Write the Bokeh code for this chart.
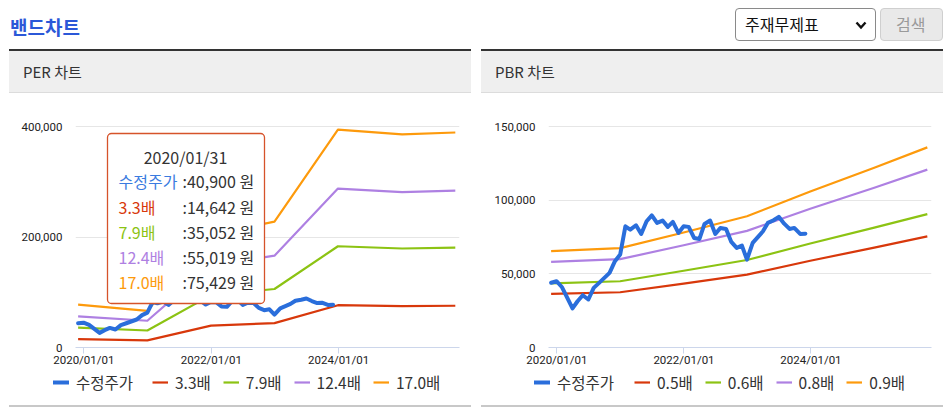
import pandas as pd
from bokeh.plotting import figure
from bokeh.models import (ColumnDataSource, Legend, LegendItem, FixedTicker, NumeralTickFormatter,
                          DatetimeTickFormatter, Range1d, BoxAnnotation, Label, Div)
from bokeh.layouts import column, row
from bokeh.embed import file_html
from bokeh.resources import INLINE

# ---------------- data ----------------
price_dates = [
    "2019-11-29", "2019-12-30", "2020-01-31", "2020-03-31", "2020-04-29", "2020-05-29",
    "2020-06-30", "2020-07-31", "2020-08-31", "2020-10-30", "2020-11-30", "2020-12-30",
    "2021-01-29", "2021-02-26", "2021-03-31", "2021-04-30", "2021-05-31", "2021-06-30",
    "2021-07-30", "2021-08-31", "2021-09-30", "2021-10-29", "2021-11-30", "2021-12-30",
    "2022-01-28", "2022-02-28", "2022-03-31", "2022-04-29", "2022-05-31", "2022-06-30",
    "2022-07-29", "2022-08-31", "2022-09-30", "2022-10-31", "2022-11-30", "2022-12-29",
    "2023-01-31", "2023-03-31", "2023-04-28", "2023-05-31", "2023-06-30", "2023-07-31",
    "2023-08-31", "2023-09-27", "2023-10-31", "2023-11-30",
]
price_values = [
    44000, 45000, 40900, 26500, 31400, 35500, 32600, 40500, 43900, 50700, 58600, 63100,
    82300, 80000, 83000, 77100, 85700, 89700, 84600, 86200, 81900, 85300, 77800, 82300,
    81900, 74400, 73700, 83900, 86200, 77100, 81200, 80500, 71700, 67600, 69200, 59700,
    71000, 78900, 84600, 86400, 88700, 84100, 80500, 81200, 77100, 77300,
]

band_dates = ["2019-11-29", "2020-12-30", "2021-12-30", "2022-12-29",
              "2023-12-28", "2024-12-30", "2025-10-31"]

per_names = ["3.3배", "7.9배", "12.4배", "17.0배"]
per_33 = [15000, 12900, 39600, 44200, 76600, 74900, 75600]
per_79 = [36000, 30800, 94800, 105900, 183300, 179300, 180900]
per_124 = [56500, 48400, 148800, 166200, 287700, 281500, 284000]
per_170 = [77500, 66300, 204000, 227800, 394400, 385900, 389300]

pbr_names = ["0.5배", "0.6배", "0.8배", "0.9배"]
pbr_05 = [36400, 37500, 43400, 49500, 58900, 67800, 75500]
pbr_06 = [43600, 45000, 52100, 59400, 70600, 81400, 90600]
pbr_08 = [58200, 60000, 69400, 79200, 94200, 108500, 120800]
pbr_09 = [65400, 67500, 78100, 89100, 105900, 122000, 135900]

price_name = "수정주가"
x_tick_dates = ["2020-01-01", "2022-01-01", "2024-01-01"]
per_y_ticks = [0, 200000, 400000]
pbr_y_ticks = [0, 50000, 100000, 150000]

tooltip_date = "2020/01/31"
tooltip_names = ["수정주가", "3.3배", "7.9배", "12.4배", "17.0배"]
tooltip_values = ["40,900", "14,642", "35,052", "55,019", "75,429"]

# ---------------- style ----------------
C_PRICE = "#2a6edb"
C_BANDS = ["#d8380b", "#8cc313", "#ae80e2", "#fd9a0c"]
FONT = "Noto Sans CJK KR"
AXIS_FONT = "Roboto"
X_START, X_END = "2019-11-14", "2025-11-24"


def ms(d):
    return pd.Timestamp(d).value // 10**6


price_src = ColumnDataSource(dict(x=pd.to_datetime(price_dates), y=price_values))


def draw_series(p, bands):
    rs = []
    for vals, col in zip(bands, C_BANDS):
        rs.append(p.line(pd.to_datetime(band_dates), vals, line_color=col, line_width=2.2,
                         line_join="round"))
    rp = p.line("x", "y", source=price_src, line_color=C_PRICE, line_width=4,
                line_join="round", line_cap="round")
    return rp, rs


def make_chart(bands, y_end, y_ticks, width, left, right):
    p = figure(width=width, height=276, x_axis_type="datetime",
               x_range=Range1d(pd.Timestamp(X_START), pd.Timestamp(X_END)),
               y_range=Range1d(0, y_end),
               output_backend="svg", toolbar_location=None,
               min_border_left=left, min_border_right=right,
               min_border_top=11, min_border_bottom=21)
    p.outline_line_color = None
    p.background_fill_color = "white"
    p.border_fill_color = "white"
    p.xgrid.grid_line_color = None
    p.ygrid.grid_line_color = "#e6e6e6"
    p.ygrid.grid_line_width = 1

    draw_series(p, bands)

    xa = p.xaxis[0]
    xa.ticker = FixedTicker(ticks=[ms(d) for d in x_tick_dates])
    xa.formatter = DatetimeTickFormatter(days="%Y/%m/%d", months="%Y/%m/%d", years="%Y/%m/%d")
    xa.axis_line_color = "#ccd6eb"
    xa.major_tick_line_color = "#ccd6eb"
    xa.major_tick_out = 6
    xa.major_tick_in = 0
    xa.minor_tick_line_color = None
    xa.major_label_standoff = -1
    xa.major_label_text_font = AXIS_FONT
    xa.major_label_text_font_size = "11.5px"
    xa.major_label_text_color = "#222222"

    ya = p.yaxis[0]
    ya.ticker = FixedTicker(ticks=y_ticks)
    ya.formatter = NumeralTickFormatter(format="0,0")
    ya.axis_line_color = None
    ya.major_tick_line_color = None
    ya.minor_tick_line_color = None
    ya.major_label_standoff = 7
    ya.major_label_text_font = AXIS_FONT
    ya.major_label_text_font_size = "11.5px"
    ya.major_label_text_color = "#222222"
    return p


def legend_box(items, lx):
    return Legend(items=items, orientation="horizontal", location=(lx, 9),
                  label_text_font=FONT, label_text_font_size="15.5px",
                  label_text_color="#333333", glyph_width=16, glyph_height=14,
                  label_standoff=7, spacing=12, padding=0, margin=0,
                  border_line_color=None, background_fill_alpha=0)


def make_legend(bands, names, width, lx_price, lx_bands):
    # legend strip under a chart: the same series drawn outside the visible range
    q = figure(width=width, height=33, x_axis_type="datetime",
               x_range=Range1d(pd.Timestamp(X_START), pd.Timestamp(X_END)),
               y_range=Range1d(-2, -1),
               output_backend="svg", toolbar_location=None, min_border=0)
    q.axis.visible = False
    q.grid.grid_line_color = None
    q.outline_line_color = None
    rp, rs = draw_series(q, bands)
    q.add_layout(legend_box([LegendItem(label=price_name, renderers=[rp])], lx_price), "center")
    q.add_layout(legend_box([LegendItem(label=n, renderers=[r]) for n, r in zip(names, rs)],
                            lx_bands), "center")
    return q


per_bands = [per_33, per_79, per_124, per_170]
pbr_bands = [pbr_05, pbr_06, pbr_08, pbr_09]
pL = make_chart(per_bands, 440000, per_y_ticks, 471, 75, 12)
pR = make_chart(pbr_bands, 165000, pbr_y_ticks, 477, 77, 17)
lgL = make_legend(per_bands, per_names, 471, 53, 152)
lgR = make_legend(pbr_bands, pbr_names, 477, 63, 163)

# tooltip (static) on the PER chart, screen units relative to the frame
box = BoxAnnotation(left=32, right=189, top=214, bottom=44,
                    left_units="screen", right_units="screen",
                    top_units="screen", bottom_units="screen",
                    fill_color="white", fill_alpha=1.0,
                    line_color="#d6532a", line_alpha=1.0, line_width=1.3, border_radius=4)
pL.add_layout(box)
pL.add_layout(Label(x=110, y=191, x_units="screen", y_units="screen", text=tooltip_date,
                    text_align="center", text_baseline="middle", text_font=FONT,
                    text_font_size="16px", text_color="#333333"))
row_y = [167, 141, 116, 91, 66]
name_cols = ["#3a7be0"] + C_BANDS
for ny, nm, vv, cc in zip(row_y, tooltip_names, tooltip_values, name_cols):
    pL.add_layout(Label(x=43, y=ny, x_units="screen", y_units="screen", text=nm,
                        text_align="left", text_baseline="middle", text_font=FONT,
                        text_font_size="16px", text_color=cc))
    pL.add_layout(Label(x=107, y=ny, x_units="screen", y_units="screen", text=":" + vv + " 원",
                        text_align="left", text_baseline="middle", text_font=FONT,
                        text_font_size="16px", text_color="#333333"))

header_html = f"""
<div style="position:relative;width:948px;height:93px;font-family:'{FONT}',sans-serif;box-sizing:border-box;">
  <div style="position:absolute;left:10px;top:13px;font-size:19px;font-weight:bold;color:#2b58d8;">밴드차트</div>
  <div style="position:absolute;box-sizing:border-box;left:735px;top:8px;width:141px;height:33px;border:1px solid #8a8a8a;border-radius:4px;background:#fff;">
    <span style="position:absolute;left:9px;top:4px;font-size:16px;color:#111;">주재무제표</span>
    <svg style="position:absolute;right:8px;top:12px;" width="12" height="9">
      <polyline points="1.5,1.5 6,6.5 10.5,1.5" stroke="#111" stroke-width="2.4" fill="none"/>
    </svg>
  </div>
  <div style="position:absolute;box-sizing:border-box;left:880px;top:8px;width:63px;height:33px;border:1px solid #cfcfcf;border-radius:4px;background:#e9e9e9;">
    <span style="position:absolute;left:15px;top:4px;font-size:16px;color:#9a9a9a;">검색</span>
  </div>
  <div style="position:absolute;box-sizing:border-box;left:9px;top:49px;width:462px;height:44px;border-top:2px solid #333;border-bottom:1px solid #dcdcdc;background:#efefef;">
    <span style="position:absolute;left:14px;top:10px;font-size:15px;color:#333;">PER 차트</span>
  </div>
  <div style="position:absolute;box-sizing:border-box;left:481px;top:49px;width:462px;height:44px;border-top:2px solid #333;border-bottom:1px solid #dcdcdc;background:#efefef;">
    <span style="position:absolute;left:14px;top:10px;font-size:15px;color:#333;">PBR 차트</span>
  </div>
</div>
"""
header = Div(text=header_html, width=948, height=93, margin=0)

footer_html = """
<div style="position:relative;width:948px;height:9px;">
  <div style="position:absolute;left:9px;top:0px;width:462px;height:2px;background:#c8c8c8;"></div>
  <div style="position:absolute;left:481px;top:0px;width:462px;height:2px;background:#c8c8c8;"></div>
</div>
"""
footer = Div(text=footer_html, width=948, height=9, margin=0)

layout = column(header, row(pL, pR, spacing=0), row(lgL, lgR, spacing=0), footer, spacing=0)
open("out.html", "w").write(file_html(layout, INLINE))
